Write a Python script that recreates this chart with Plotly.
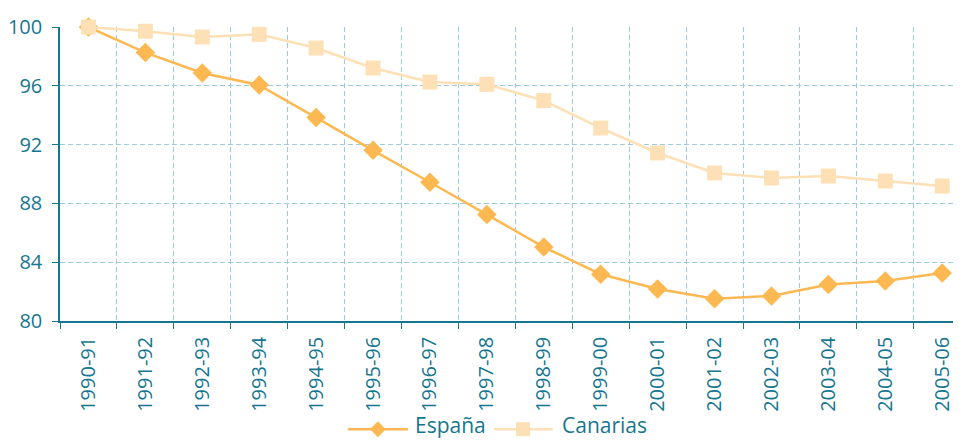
import plotly.graph_objects as go

categories = ["1990-91", "1991-92", "1992-93", "1993-94", "1994-95", "1995-96",
              "1996-97", "1997-98", "1998-99", "1999-00", "2000-01", "2001-02",
              "2002-03", "2003-04", "2004-05", "2005-06"]
espana = [100, 98.26, 96.87, 96.05, 93.84, 91.61, 89.44, 87.24, 85.03, 83.18,
          82.18, 81.52, 81.70, 82.48, 82.72, 83.27]
canarias = [100, 99.71, 99.32, 99.50, 98.57, 97.21, 96.26, 96.10, 94.99, 93.13,
            91.43, 90.07, 89.73, 89.86, 89.52, 89.18]
y_ticks = [80, 84, 88, 92, 96, 100]

teal = "#17768f"
grid = "#9ccbd9"
c_esp = "#fdb851"
c_can = "#fde0b5"
font_family = "Open Sans, Noto Sans, sans-serif"

fig = go.Figure()
fig.add_trace(go.Scatter(
    x=categories, y=espana, name="España", mode="lines+markers",
    line=dict(color=c_esp, width=2.5),
    marker=dict(symbol="diamond", size=15, color=c_esp),
    cliponaxis=False,
))
fig.add_trace(go.Scatter(
    x=categories, y=canarias, name="Canarias", mode="lines+markers",
    line=dict(color=c_can, width=2.5),
    marker=dict(symbol="square", size=15, color=c_can),
    cliponaxis=False,
))

# Custom legend (paper coordinates) with long line samples like the reference
ly = -0.368
ty = -0.408  # bottom edge of the figure
shapes = [
    dict(type="line", xref="paper", yref="paper", x0=0.3196, x1=0.3862, y0=ly, y1=ly,
         line=dict(color=c_esp, width=2.5)),
    dict(type="path", xref="paper", yref="paper", xsizemode="pixel", ysizemode="pixel",
         xanchor=0.3529, yanchor=ly, path="M0,-8 L8,0 L0,8 L-8,0 Z",
         fillcolor=c_esp, line=dict(width=0)),
    dict(type="line", xref="paper", yref="paper", x0=0.4817, x1=0.5472, y0=ly, y1=ly,
         line=dict(color=c_can, width=2.5)),
    dict(type="path", xref="paper", yref="paper", xsizemode="pixel", ysizemode="pixel",
         xanchor=0.5139, yanchor=ly, path="M-7,-7 L7,-7 L7,7 L-7,7 Z",
         fillcolor=c_can, line=dict(width=0)),
]
annotations = [
    dict(text="España", xref="paper", yref="paper", x=0.3918, y=ty, xanchor="left",
         yanchor="bottom", showarrow=False, font=dict(size=21, color=teal)),
    dict(text="Canarias", xref="paper", yref="paper", x=0.5549, y=ty, xanchor="left",
         yanchor="bottom", showarrow=False, font=dict(size=21, color=teal)),
]

# The page body adds an 8px offset, so the figure is 8px smaller and margins shifted.
fig.update_layout(
    width=953, height=433,
    margin=dict(l=52, r=0, t=19, b=120, autoexpand=False),
    paper_bgcolor="white", plot_bgcolor="white",
    font=dict(family=font_family, color=teal, size=20),
    showlegend=False,
    shapes=shapes, annotations=annotations,
)
fig.update_xaxes(
    type="category", categoryorder="array", categoryarray=categories,
    range=[-0.5, 15.33], automargin=False,
    tickson="boundaries", ticks="outside", ticklen=6, tickcolor=teal,
    tickangle=-90, tickfont=dict(size=20, color=teal), ticklabelstandoff=6,
    showgrid=True, gridcolor=grid, griddash="5px,3px", gridwidth=1,
    showline=True, linecolor=teal, linewidth=1.5,
    zeroline=False,
)
fig.update_yaxes(
    range=[80, 100], tickvals=y_ticks, automargin=False,
    ticks="outside", ticklen=6, tickcolor=teal,
    tickfont=dict(size=20, color=teal), ticklabelstandoff=6,
    showgrid=True, gridcolor=grid, griddash="5px,3px", gridwidth=1,
    showline=True, linecolor=teal, linewidth=1.5,
    zeroline=False,
)

fig.write_html("out.html")
